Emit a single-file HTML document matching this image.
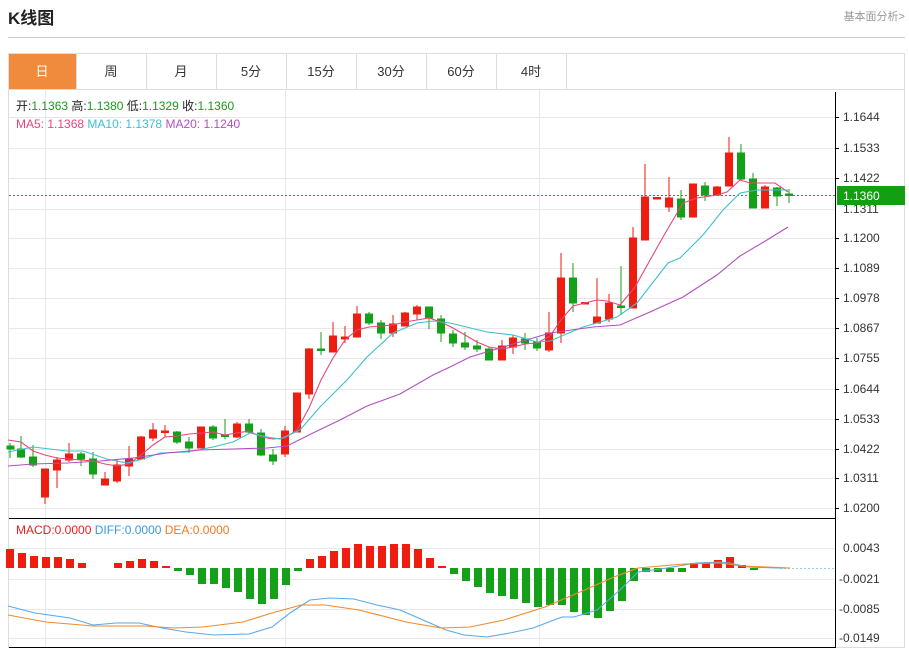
<!DOCTYPE html>
<html><head><meta charset="utf-8"><style>
body{margin:0;background:#fff;width:909px;height:650px;overflow:hidden;font-family:"Liberation Sans","Noto Sans CJK SC",sans-serif}
</style></head><body>
<svg width="909" height="650" xmlns="http://www.w3.org/2000/svg" font-family="Liberation Sans, Noto Sans CJK SC, sans-serif">
<text x="8" y="24" font-size="17" font-weight="bold" fill="#222">K线图</text>
<text x="905" y="20" font-size="11" fill="#999" text-anchor="end">基本面分析&gt;</text>
<line x1="8" y1="37.5" x2="905" y2="37.5" stroke="#ccc"/>
<rect x="8.5" y="53.5" width="896" height="594" fill="none" stroke="#ddd"/>
<line x1="8" y1="89.5" x2="905" y2="89.5" stroke="#ddd"/>
<rect x="9" y="54" width="67" height="35" fill="#f08a3c"/>
<g stroke="#ddd"><line x1="76.5" y1="54" x2="76.5" y2="89"/><line x1="146.5" y1="54" x2="146.5" y2="89"/><line x1="216.5" y1="54" x2="216.5" y2="89"/><line x1="286.5" y1="54" x2="286.5" y2="89"/><line x1="356.5" y1="54" x2="356.5" y2="89"/><line x1="426.5" y1="54" x2="426.5" y2="89"/><line x1="496.5" y1="54" x2="496.5" y2="89"/><line x1="566.5" y1="54" x2="566.5" y2="89"/></g>
<g font-size="13" text-anchor="middle" fill="#333"><text x="42" y="76" fill="#fff">日</text><text x="111" y="76">周</text><text x="181" y="76">月</text><text x="251" y="76">5分</text><text x="321" y="76">15分</text><text x="391" y="76">30分</text><text x="461" y="76">60分</text><text x="531" y="76">4时</text></g>
<!-- grid -->
<g stroke="#e8e8e8"><line x1="9" y1="117.5" x2="835" y2="117.5"/><line x1="9" y1="148.5" x2="835" y2="148.5"/><line x1="9" y1="178.5" x2="835" y2="178.5"/><line x1="9" y1="209.5" x2="835" y2="209.5"/><line x1="9" y1="238.5" x2="835" y2="238.5"/><line x1="9" y1="268.5" x2="835" y2="268.5"/><line x1="9" y1="298.5" x2="835" y2="298.5"/><line x1="9" y1="328.5" x2="835" y2="328.5"/><line x1="9" y1="358.5" x2="835" y2="358.5"/><line x1="9" y1="389.5" x2="835" y2="389.5"/><line x1="9" y1="419.5" x2="835" y2="419.5"/><line x1="9" y1="449.5" x2="835" y2="449.5"/><line x1="9" y1="478.5" x2="835" y2="478.5"/><line x1="9" y1="508.5" x2="835" y2="508.5"/>
<line x1="9" y1="548.5" x2="835" y2="548.5"/><line x1="9" y1="579.5" x2="835" y2="579.5"/><line x1="9" y1="609.5" x2="835" y2="609.5"/><line x1="9" y1="638.5" x2="835" y2="638.5"/>
<line x1="45.5" y1="90" x2="45.5" y2="647"/><line x1="285.5" y1="90" x2="285.5" y2="647"/><line x1="539.5" y1="90" x2="539.5" y2="647"/></g>
<line x1="835.5" y1="92" x2="835.5" y2="648" stroke="#000"/>
<line x1="9" y1="518.5" x2="835" y2="518.5" stroke="#000"/>
<line x1="9" y1="647.5" x2="835" y2="647.5" stroke="#000"/>
<g font-size="12" fill="#333"><text x="843" y="121">1.1644</text><text x="843" y="152">1.1533</text><text x="843" y="182">1.1422</text><text x="843" y="213">1.1311</text><text x="843" y="242">1.1200</text><text x="843" y="272">1.1089</text><text x="843" y="302">1.0978</text><text x="843" y="332">1.0867</text><text x="843" y="362">1.0755</text><text x="843" y="393">1.0644</text><text x="843" y="423">1.0533</text><text x="843" y="453">1.0422</text><text x="843" y="482">1.0311</text><text x="843" y="512">1.0200</text>
<text x="843" y="552">0.0043</text><text x="839" y="583">-0.0021</text><text x="839" y="613">-0.0085</text><text x="839" y="642">-0.0149</text></g>
<g stroke="#000"><line x1="835" y1="117.5" x2="839" y2="117.5"/><line x1="835" y1="148.5" x2="839" y2="148.5"/><line x1="835" y1="178.5" x2="839" y2="178.5"/><line x1="835" y1="238.5" x2="839" y2="238.5"/><line x1="835" y1="268.5" x2="839" y2="268.5"/><line x1="835" y1="298.5" x2="839" y2="298.5"/><line x1="835" y1="328.5" x2="839" y2="328.5"/><line x1="835" y1="358.5" x2="839" y2="358.5"/><line x1="835" y1="389.5" x2="839" y2="389.5"/><line x1="835" y1="419.5" x2="839" y2="419.5"/><line x1="835" y1="449.5" x2="839" y2="449.5"/><line x1="835" y1="478.5" x2="839" y2="478.5"/><line x1="835" y1="508.5" x2="839" y2="508.5"/></g>
<!-- info -->
<text x="16" y="110" font-size="12" fill="#222">开:<tspan fill="#1a9a1a">1.1363</tspan>  高:<tspan fill="#1a9a1a">1.1380</tspan>  低:<tspan fill="#1a9a1a">1.1329</tspan>  收:<tspan fill="#1a9a1a">1.1360</tspan></text>
<text x="16" y="128" font-size="12"><tspan fill="#e8457a">MA5: 1.1368</tspan>  <tspan fill="#3cc0d0">MA10: 1.1378</tspan>  <tspan fill="#b050c0">MA20: 1.1240</tspan></text>
<text x="16" y="534" font-size="12"><tspan fill="#e82020">MACD:0.0000</tspan>  <tspan fill="#3a9ae0">DIFF:0.0000</tspan>  <tspan fill="#f07a20">DEA:0.0000</tspan></text>
<!-- price line -->
<line x1="9" y1="195.5" x2="835" y2="195.5" stroke="#2a9a2a" stroke-dasharray="2,2"/>
<rect x="837" y="186" width="68" height="19" fill="#12a012"/>
<text x="843" y="200" font-size="12" fill="#fff">1.1360</text>
<!-- candles -->
<g stroke-width="1">
<g stroke="#15a01a" fill="#15a01a">
<line x1="10" y1="443" x2="10" y2="458"/><rect x="7" y="446" width="7" height="3"/>
<line x1="21" y1="436" x2="21" y2="458"/><rect x="17.5" y="449" width="7" height="8"/>
<line x1="33" y1="445" x2="33" y2="467"/><rect x="29.5" y="457" width="7" height="8"/>
<line x1="81" y1="452" x2="81" y2="466"/><rect x="77.5" y="454" width="7" height="5"/>
<line x1="93" y1="452" x2="93" y2="479"/><rect x="89.5" y="459" width="7" height="15"/>
<line x1="177" y1="431" x2="177" y2="444"/><rect x="173.5" y="432" width="7" height="10"/>
<line x1="189" y1="437" x2="189" y2="453"/><rect x="185.5" y="442" width="7" height="6"/>
<line x1="213" y1="425" x2="213" y2="440"/><rect x="209.5" y="427" width="7" height="11"/>
<line x1="225" y1="419" x2="225" y2="439"/><rect x="221.5" y="435" width="7" height="1.5"/>
<line x1="249" y1="419" x2="249" y2="433"/><rect x="245.5" y="424" width="7" height="8"/>
<line x1="261" y1="429" x2="261" y2="456"/><rect x="257.5" y="433" width="7" height="22"/>
<line x1="273" y1="449" x2="273" y2="465"/><rect x="269.5" y="455" width="7" height="6"/>
<line x1="321" y1="332" x2="321" y2="355"/><rect x="317.5" y="349" width="7" height="1.5"/>
<line x1="369" y1="312" x2="369" y2="325"/><rect x="365.5" y="314" width="7" height="9"/>
<line x1="381" y1="320" x2="381" y2="339"/><rect x="377.5" y="323" width="7" height="10"/>
<line x1="429" y1="307" x2="429" y2="329"/><rect x="425.5" y="307" width="7" height="11"/>
<line x1="441" y1="315" x2="441" y2="342"/><rect x="437.5" y="319" width="7" height="14"/>
<line x1="453" y1="330" x2="453" y2="347"/><rect x="449.5" y="334" width="7" height="9"/>
<line x1="465" y1="332" x2="465" y2="350"/><rect x="461.5" y="343" width="7" height="4"/>
<line x1="477" y1="340" x2="477" y2="352"/><rect x="473.5" y="346" width="7" height="3"/>
<line x1="489" y1="347" x2="489" y2="360"/><rect x="485.5" y="349" width="7" height="11"/>
<line x1="525" y1="333" x2="525" y2="350"/><rect x="521.5" y="339" width="7" height="4"/>
<line x1="537" y1="338" x2="537" y2="351"/><rect x="533.5" y="342" width="7" height="6"/>
<line x1="573" y1="263" x2="573" y2="312"/><rect x="569.5" y="278" width="7" height="25"/>
<line x1="621" y1="266" x2="621" y2="315"/><rect x="617.5" y="306" width="7" height="1.5"/>
<line x1="681" y1="190" x2="681" y2="220"/><rect x="677.5" y="199" width="7" height="18"/>
<line x1="705" y1="182" x2="705" y2="201"/><rect x="701.5" y="186" width="7" height="9"/>
<line x1="741" y1="144" x2="741" y2="180"/><rect x="737.5" y="153" width="7" height="26"/>
<line x1="753" y1="173" x2="753" y2="208"/><rect x="749.5" y="179" width="7" height="29"/>
<line x1="777" y1="187" x2="777" y2="206"/><rect x="773.5" y="188" width="7" height="8"/>
<line x1="789" y1="189" x2="789" y2="203"/><rect x="785.5" y="194" width="7" height="1.5"/>
</g>
<g stroke="#ee1d0f" fill="#ee1d0f">
<line x1="45" y1="469" x2="45" y2="504"/><rect x="41.5" y="469" width="7" height="28"/>
<line x1="57" y1="457" x2="57" y2="488"/><rect x="53.5" y="460" width="7" height="10"/>
<line x1="69" y1="443" x2="69" y2="462"/><rect x="65.5" y="454" width="7" height="6"/>
<line x1="105" y1="472" x2="105" y2="485"/><rect x="101.5" y="479" width="7" height="6"/>
<line x1="117" y1="460" x2="117" y2="483"/><rect x="113.5" y="465" width="7" height="16"/>
<line x1="129" y1="446" x2="129" y2="476"/><rect x="125.5" y="459" width="7" height="7"/>
<line x1="141" y1="436" x2="141" y2="460"/><rect x="137.5" y="437" width="7" height="22"/>
<line x1="153" y1="423" x2="153" y2="441"/><rect x="149.5" y="430" width="7" height="8"/>
<line x1="165" y1="425" x2="165" y2="437"/><rect x="161.5" y="431" width="7" height="1.5"/>
<line x1="201" y1="427" x2="201" y2="448"/><rect x="197.5" y="427" width="7" height="21"/>
<line x1="237" y1="422" x2="237" y2="438"/><rect x="233.5" y="424" width="7" height="13"/>
<line x1="285" y1="426" x2="285" y2="457"/><rect x="281.5" y="431" width="7" height="23"/>
<line x1="297" y1="393" x2="297" y2="432"/><rect x="293.5" y="393" width="7" height="39"/>
<line x1="309" y1="348" x2="309" y2="399"/><rect x="305.5" y="349" width="7" height="45"/>
<line x1="333" y1="322" x2="333" y2="352"/><rect x="329.5" y="336" width="7" height="16"/>
<line x1="345" y1="326" x2="345" y2="343"/><rect x="341.5" y="337" width="7" height="2"/>
<line x1="357" y1="306" x2="357" y2="337"/><rect x="353.5" y="314" width="7" height="23"/>
<line x1="393" y1="315" x2="393" y2="337"/><rect x="389.5" y="324" width="7" height="9"/>
<line x1="405" y1="312" x2="405" y2="326"/><rect x="401.5" y="313" width="7" height="13"/>
<line x1="417" y1="305" x2="417" y2="320"/><rect x="413.5" y="307" width="7" height="7"/>
<line x1="502" y1="340" x2="502" y2="360"/><rect x="498.5" y="346" width="7" height="14"/>
<line x1="513" y1="335" x2="513" y2="354"/><rect x="509.5" y="338" width="7" height="9"/>
<line x1="549" y1="312" x2="549" y2="352"/><rect x="545.5" y="333" width="7" height="17"/>
<line x1="561" y1="253" x2="561" y2="343"/><rect x="557.5" y="278" width="7" height="55"/>
<line x1="585" y1="302" x2="585" y2="304"/><rect x="581.5" y="302.5" width="7" height="1.5"/>
<line x1="597" y1="278" x2="597" y2="323"/><rect x="593.5" y="317" width="7" height="6"/>
<line x1="609" y1="294" x2="609" y2="322"/><rect x="605.5" y="303" width="7" height="16"/>
<line x1="633" y1="227" x2="633" y2="308"/><rect x="629.5" y="238" width="7" height="70"/>
<line x1="645" y1="164" x2="645" y2="240"/><rect x="641.5" y="197" width="7" height="43"/>
<rect x="653.5" y="197.5" width="7" height="1.5"/>
<line x1="669" y1="177" x2="669" y2="212"/><rect x="665.5" y="198" width="7" height="9"/>
<line x1="693" y1="184" x2="693" y2="217"/><rect x="689.5" y="184" width="7" height="33"/>
<line x1="717" y1="186" x2="717" y2="196"/><rect x="713.5" y="187" width="7" height="8"/>
<line x1="729" y1="137" x2="729" y2="186"/><rect x="725.5" y="153" width="7" height="33"/>
<line x1="765" y1="185" x2="765" y2="208"/><rect x="761.5" y="187" width="7" height="21"/>
</g></g>
<!-- MAs -->
<g fill="none" stroke-width="1.1">
<polyline stroke="#e8457a" points="8,440 21,442 33,451 45,455 57,458 69,459 81,460 93,461 105,464 117,466 129,464 141,455 153,445 165,437 177,436 189,434 201,433 213,432 225,435 237,433 249,431 261,437 273,439 285,438 297,430 309,408 321,380 333,358 345,340 357,330 369,327 381,326 393,325 405,322 417,320 429,318 441,322 453,328 465,335 477,342 489,347 502,349 513,347 525,344 537,343 550,336 561,320 573,306 585,303 597,300 607,301 620,305 635,287 649,262 663,237 683,203 697,198 717,195 727,192 740,180 750,183 763,183 775,183 788,192"/>
<polyline stroke="#3cc0d0" points="8,452 33,447 67,451 83,451 107,459 127,463 143,459 160,453 187,452 213,447 233,442 250,433 267,437 280,439 300,430 320,407 347,380 367,357 393,333 417,323 433,321 450,323 487,332 513,335 537,342 550,341 583,327 617,317 637,303 668,263 680,258 703,235 723,210 740,193 757,190 788,190"/>
<polyline stroke="#b050c0" points="8,466 33,464 67,463 100,461 133,458 167,453 200,450 233,449 267,448 287,446 313,433 340,420 367,406 400,394 433,375 450,367 470,357 550,333 593,327 620,325 650,312 683,297 717,275 740,256 767,240 788,227"/>
</g>
<!-- MACD -->
<line x1="780" y1="568.5" x2="835" y2="568.5" stroke="#9ccbe8" stroke-dasharray="2,2"/>
<g fill="#ee1d0f">
<rect x="6" y="549" width="8" height="19"/><rect x="18" y="553" width="8" height="15"/><rect x="30" y="556" width="8" height="12"/><rect x="42" y="557" width="8" height="11"/><rect x="54" y="557" width="8" height="11"/><rect x="66" y="559" width="8" height="9"/><rect x="78" y="563" width="8" height="5"/>
<rect x="114" y="563" width="8" height="5"/><rect x="126" y="561" width="8" height="7"/><rect x="138" y="559" width="8" height="9"/><rect x="150" y="561" width="8" height="7"/><rect x="162" y="566" width="8" height="2"/>
<rect x="306" y="559" width="8" height="9"/><rect x="318" y="556" width="8" height="12"/><rect x="330" y="551" width="8" height="17"/><rect x="342" y="548" width="8" height="20"/><rect x="354" y="544" width="8" height="24"/><rect x="366" y="546" width="8" height="22"/><rect x="378" y="546" width="8" height="22"/><rect x="390" y="544" width="8" height="24"/><rect x="402" y="544" width="8" height="24"/><rect x="414" y="549" width="8" height="19"/><rect x="426" y="558" width="8" height="10"/><rect x="438" y="566" width="8" height="2"/>
<rect x="690" y="563" width="8" height="5"/><rect x="702" y="563" width="8" height="5"/><rect x="714" y="560" width="8" height="8"/><rect x="726" y="557" width="8" height="11"/><rect x="738" y="565" width="8" height="3"/><rect x="762" y="567" width="8" height="1"/>
</g>
<g fill="#15a01a">
<rect x="174" y="568" width="8" height="3"/><rect x="186" y="568" width="8" height="7"/><rect x="198" y="568" width="8" height="16"/><rect x="210" y="568" width="8" height="16"/><rect x="222" y="568" width="8" height="20"/><rect x="234" y="568" width="8" height="24"/><rect x="246" y="568" width="8" height="31"/><rect x="258" y="568" width="8" height="36"/><rect x="270" y="568" width="8" height="31"/><rect x="282" y="568" width="8" height="17"/><rect x="294" y="568" width="8" height="3"/>
<rect x="450" y="568" width="8" height="6"/><rect x="462" y="568" width="8" height="13"/><rect x="474" y="568" width="8" height="19"/><rect x="486" y="568" width="8" height="25"/><rect x="498" y="568" width="8" height="28"/><rect x="510" y="568" width="8" height="31"/><rect x="522" y="568" width="8" height="35"/><rect x="534" y="568" width="8" height="39"/><rect x="546" y="568" width="8" height="37"/><rect x="558" y="568" width="8" height="37"/><rect x="570" y="568" width="8" height="44"/><rect x="582" y="568" width="8" height="47"/><rect x="594" y="568" width="8" height="50"/><rect x="606" y="568" width="8" height="43"/><rect x="618" y="568" width="8" height="33"/><rect x="630" y="568" width="8" height="13"/><rect x="642" y="568" width="8" height="4"/><rect x="654" y="568" width="8" height="4"/><rect x="666" y="568" width="8" height="4"/><rect x="678" y="568" width="8" height="4"/><rect x="750" y="568" width="8" height="2"/>
</g>
<g fill="none" stroke-width="1.1">
<polyline stroke="#5aa9e6" points="8,606 35,613 70,618 93,625 116,623 139,623 162,628 186,632 214,635 249,634 272,627 290,613 310,600 330,598 354,599 377,605 400,610 423,620 446,630 464,635 487,637 510,633 533,628 562,617 574,617 597,610 620,590 638,572 667,568 696,563 719,562 730,563 748,567 777,568 790,568"/>
<polyline stroke="#f08a2c" points="8,615 46,622 93,626 145,626 174,628 203,627 243,622 272,613 301,605 325,605 359,610 406,622 441,628 470,627 504,620 545,607 580,592 614,577 638,568 684,564 719,563 742,566 790,568"/>
</g>
</svg>
</body></html>
